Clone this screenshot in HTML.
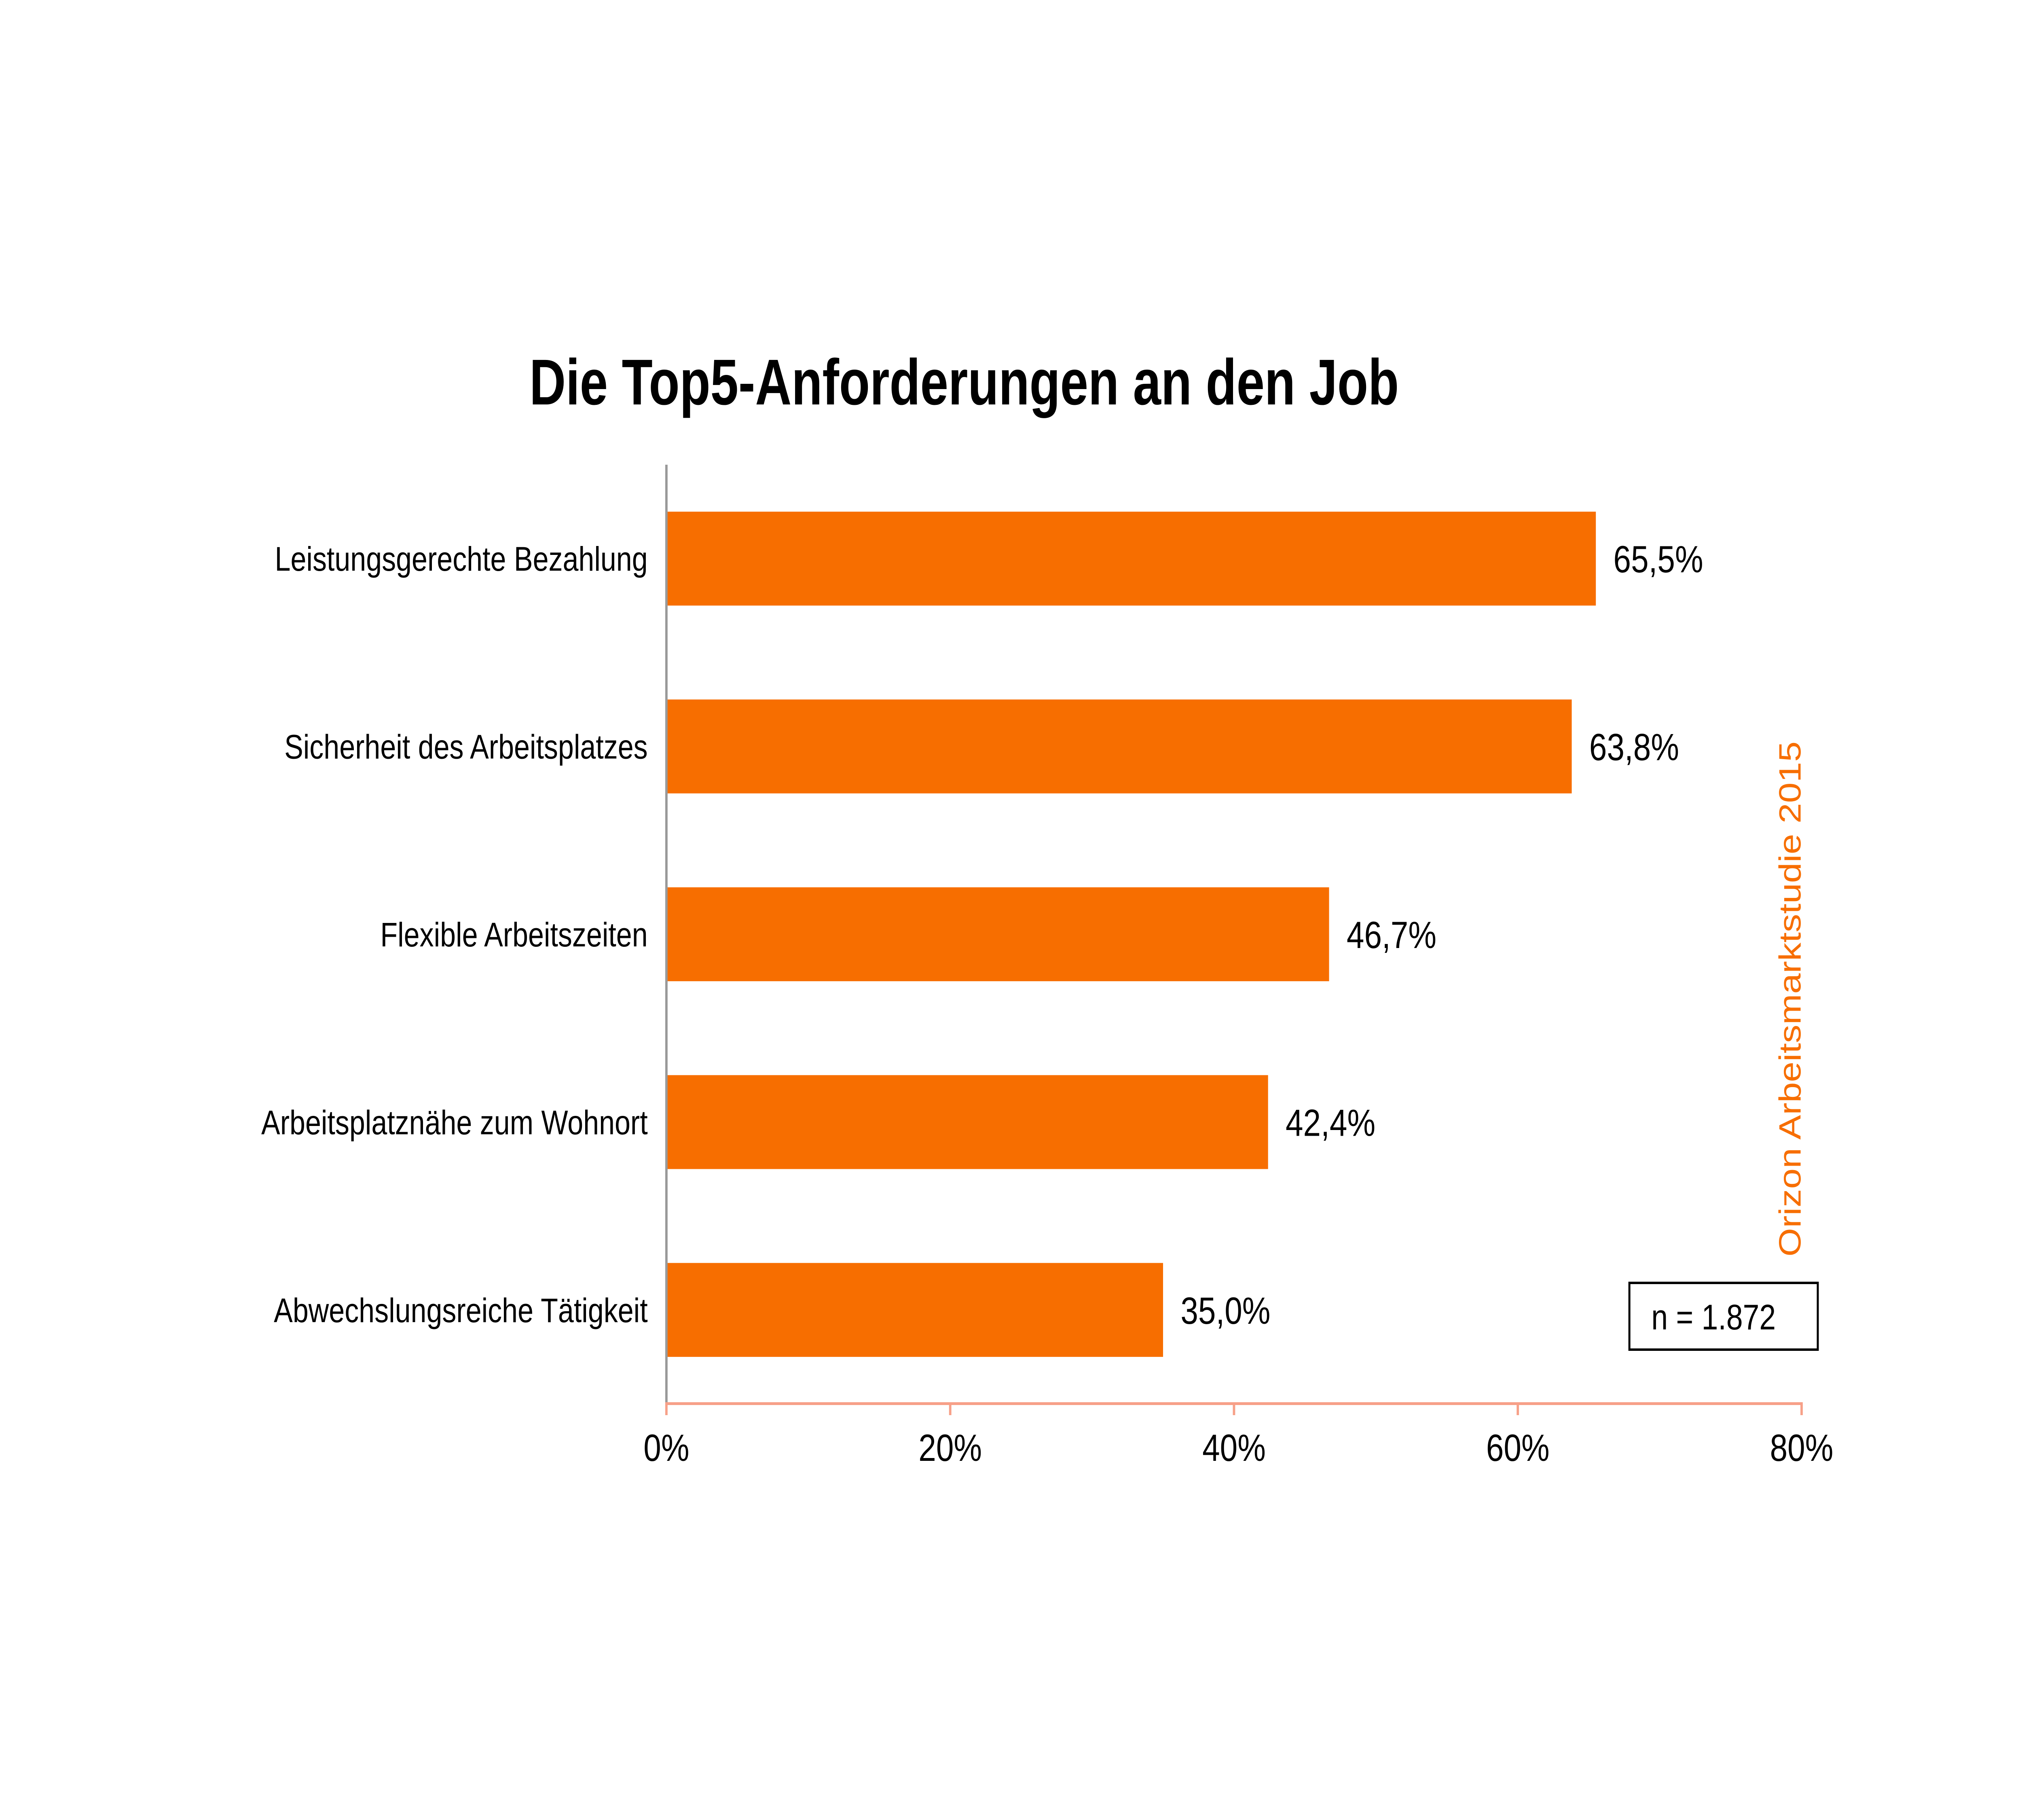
<!DOCTYPE html>
<html><head><meta charset="utf-8"><style>
html,body{margin:0;padding:0;background:#fff;width:100%;height:100%;overflow:hidden;}
svg{display:block;position:fixed;left:0;top:0;width:100vw;height:100vh;font-family:"Liberation Sans",Arial,sans-serif;}
</style></head><body>
<svg id="chart" viewBox="0 0 6000 4500" preserveAspectRatio="none" xmlns="http://www.w3.org/2000/svg">
<rect width="6000" height="4500" fill="#fff"/>
<text x="1571" y="1000" font-size="160" font-weight="bold" textLength="2580" lengthAdjust="spacingAndGlyphs">Die Top5-Anforderungen an den Job</text>
<g id="bars"></g>
<g id="axes"></g>
<rect x="4835" y="3172" width="559" height="165" fill="none" stroke="#000" stroke-width="6"/>
<text x="4900" y="3287" font-size="88">n = 1.872</text>
<text transform="translate(5343,3107) rotate(-90)" font-size="91" fill="#f76e00" textLength="1274" lengthAdjust="spacingAndGlyphs">Orizon Arbeitsmarktstudie 2015</text>
</svg>
<script>
const categories = ["Leistungsgerechte Bezahlung","Sicherheit des Arbeitsplatzes","Flexible Arbeitszeiten","Arbeitsplatznähe zum Wohnort","Abwechslungsreiche Tätigkeit"];
const values = [65.5, 63.8, 46.7, 42.4, 35.0];
const valueLabels = ["65,5%","63,8%","46,7%","42,4%","35,0%"];
const ticks = [0, 20, 40, 60, 80];
const tickLabels = ["0%","20%","40%","60%","80%"];

const NS = "http://www.w3.org/2000/svg";
const X0 = 1977.5, X1 = 5346, XMAX = 80;
const Y0 = 1149, Y1 = 3471;
const xs = v => X0 + (v / XMAX) * (X1 - X0);
const band = (Y1 - Y0) / categories.length;
const yc = i => Y0 + band * (i + 0.5);
const barH = band * 0.5;

function mk(tag, attrs, parent) {
  const e = document.createElementNS(NS, tag);
  for (const k in attrs) e.setAttribute(k, attrs[k]);
  parent.appendChild(e);
  return e;
}
const gb = document.getElementById("bars");
const ga = document.getElementById("axes");

values.forEach((v, i) => {
  const r = mk("rect", {x: X0, y: yc(i) - barH / 2, width: xs(v) - X0, height: barH, fill: "#f76e00"}, gb);
  
  
  const t = mk("text", {x: xs(v) + 52, y: yc(i) + 34, "font-size": 94}, gb);
  
  
  t.textContent = valueLabels[i];
  const c = mk("text", {x: 1922, y: yc(i) + 30, "font-size": 84, "text-anchor": "end"}, ga);
  
  
  c.textContent = categories[i];
});

const xl = mk("line", {x1: X0, x2: xs(XMAX) + 3, y1: 3470.5, y2: 3470.5, stroke: "#f7a088", "stroke-width": 7}, ga);


ticks.forEach((t, i) => {
  const l = mk("line", {x1: xs(t), x2: xs(t), y1: 3467, y2: 3499, stroke: "#f7a088", "stroke-width": 7}, ga);
  
  
  const tx = mk("text", {x: xs(t), y: 3612, "font-size": 94, "text-anchor": "middle"}, ga);
  
  
  tx.textContent = tickLabels[i];
});
const yl = mk("line", {x1: X0, x2: X0, y1: 1149, y2: 3467, stroke: "#999", "stroke-width": 7}, ga);


</script>
</body></html>
